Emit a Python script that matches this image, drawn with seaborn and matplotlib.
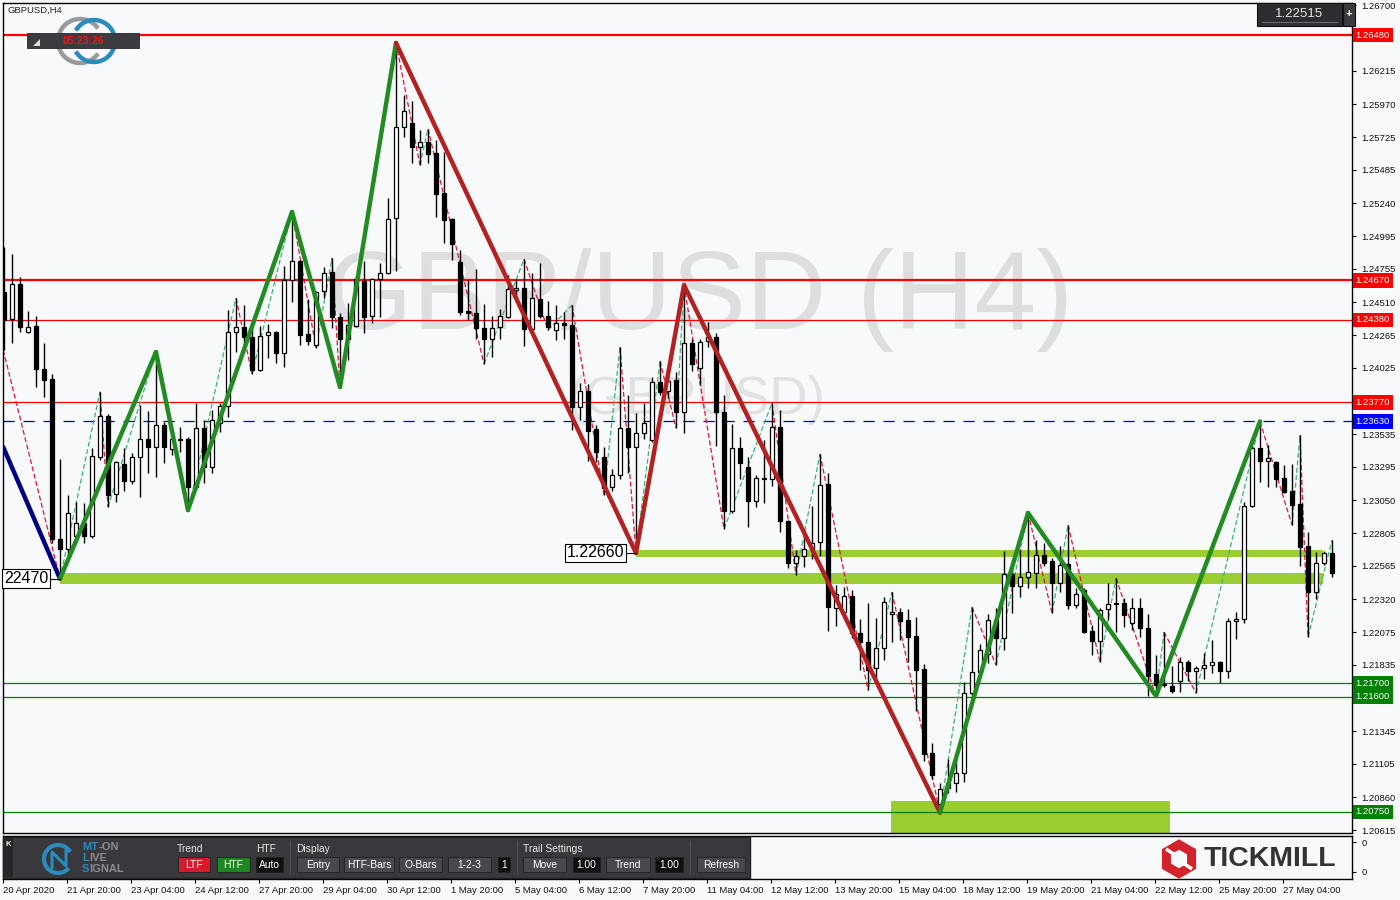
#!/usr/bin/env python3.12
# coding=utf-8

import matplotlib
matplotlib.use("Agg")
from matplotlib import pyplot as plt
from matplotlib import patches, font_manager
from matplotlib.transforms import blended_transform_factory
import pandas as pd
import seaborn as sns
import numpy as np

# GBPUSD H4 candles, 20 Apr - 27 May 2020
opens = [
    1.24585, 1.24385, 1.24643, 1.24293, 1.24334, 1.24016, 1.23943, 1.22763, 1.22689, 1.22782,
    1.22881, 1.22782, 1.23367, 1.23671, 1.23095, 1.23316, 1.23191, 1.23368, 1.23500, 1.23441,
    1.23604, 1.23427, 1.23500, 1.23500, 1.23146, 1.23582, 1.23294, 1.23618, 1.23744, 1.24290,
    1.24326, 1.24253, 1.24009, 1.24267, 1.24290, 1.24135, 1.24673, 1.24813, 1.24275, 1.24194,
    1.24592, 1.24732, 1.24400, 1.24238, 1.24334, 1.24666, 1.24408, 1.24680, 1.24725, 1.25130,
    1.25801, 1.25831, 1.25654, 1.25691, 1.25610, 1.25315, 1.25123, 1.24806, 1.24444, 1.24430,
    1.24319, 1.24238, 1.24326, 1.24400, 1.24599, 1.24614, 1.24312, 1.24533, 1.24408, 1.24304,
    1.24356, 1.24341, 1.23736, 1.23854, 1.23574, 1.23368, 1.23146, 1.23235, 1.23582, 1.23441,
    1.23545, 1.23493, 1.23921, 1.23854, 1.23936, 1.23700, 1.24208, 1.24024, 1.24223, 1.24253,
    1.23700, 1.22969, 1.23434, 1.23294, 1.23043, 1.23205, 1.23205, 1.23589, 1.22896, 1.22586,
    1.22638, 1.22689, 1.22741, 1.23169, 1.22254, 1.22225, 1.22343, 1.22070, 1.22003, 1.21812,
    1.21959, 1.22210, 1.22225, 1.22166, 1.22048, 1.21804, 1.21185, 1.20809, 1.20927, 1.20963,
    1.21037, 1.21627, 1.21782, 1.21915, 1.22166, 1.22033, 1.22505, 1.22416, 1.22483, 1.22512,
    1.22645, 1.22601, 1.22438, 1.22579, 1.22276, 1.22387, 1.22084, 1.22011, 1.22247, 1.22284,
    1.22291, 1.22143, 1.22254, 1.22107, 1.21767, 1.21686, 1.21679, 1.21716, 1.21856, 1.21789,
    1.21812, 1.21834, 1.21856, 1.21789, 1.22158, 1.22173, 1.23006, 1.23434, 1.23338, 1.23331,
    1.23213, 1.23117, 1.23021, 1.22711, 1.22372, 1.22586, 1.22660,
]
highs = [
    1.24916, 1.24865, 1.24695, 1.24445, 1.24407, 1.24208, 1.23980, 1.23353, 1.23087, 1.23036,
    1.23028, 1.23434, 1.23849, 1.23685, 1.23335, 1.23434, 1.23397, 1.23751, 1.23707, 1.24149,
    1.23626, 1.23574, 1.23589, 1.23515, 1.23766, 1.23641, 1.23714, 1.23766, 1.24452, 1.24540,
    1.24489, 1.24319, 1.24334, 1.24349, 1.24300, 1.24776, 1.25175, 1.24820, 1.24533, 1.24592,
    1.24769, 1.24835, 1.24430, 1.24503, 1.24703, 1.24813, 1.24690, 1.24798, 1.25278, 1.26421,
    1.26037, 1.25993, 1.25779, 1.25787, 1.25706, 1.25617, 1.25130, 1.24894, 1.24673, 1.24754,
    1.24496, 1.24408, 1.24459, 1.24710, 1.24680, 1.24828, 1.24725, 1.24798, 1.24518, 1.24489,
    1.24437, 1.24489, 1.23913, 1.23906, 1.23604, 1.23441, 1.23279, 1.24179, 1.23825, 1.23692,
    1.23766, 1.23958, 1.24076, 1.23987, 1.23995, 1.24636, 1.24238, 1.24238, 1.24363, 1.24282,
    1.23825, 1.23611, 1.23515, 1.23368, 1.23235, 1.23493, 1.23766, 1.23714, 1.22903, 1.22682,
    1.22770, 1.23006, 1.23390, 1.23250, 1.22424, 1.22409, 1.22387, 1.22173, 1.22291, 1.22180,
    1.22335, 1.22372, 1.22254, 1.22247, 1.22188, 1.21841, 1.21258, 1.20963, 1.21140, 1.21140,
    1.21708, 1.22261, 1.21989, 1.22210, 1.22254, 1.22674, 1.22556, 1.22689, 1.22955, 1.22756,
    1.22733, 1.22623, 1.22711, 1.22866, 1.22402, 1.22402, 1.22129, 1.22254, 1.22438, 1.22475,
    1.22328, 1.22328, 1.22328, 1.22210, 1.21907, 1.22077, 1.21826, 1.21893, 1.21871, 1.21826,
    1.21922, 1.22018, 1.21863, 1.22180, 1.22225, 1.23036, 1.23478, 1.23630, 1.23456, 1.23338,
    1.23309, 1.23316, 1.23530, 1.22815, 1.22667, 1.22674, 1.22756,
]
lows = [
    1.24157, 1.24208, 1.24293, 1.24285, 1.23884, 1.23810, 1.22734, 1.22470, 1.22608, 1.22734,
    1.22734, 1.22770, 1.23346, 1.22999, 1.23036, 1.23117, 1.23169, 1.23073, 1.23250, 1.23220,
    1.23323, 1.23382, 1.23405, 1.22969, 1.23124, 1.23176, 1.23250, 1.23552, 1.23663, 1.24142,
    1.24142, 1.23980, 1.24002, 1.24098, 1.24061, 1.24031, 1.24511, 1.24194, 1.24194, 1.24172,
    1.24540, 1.24319, 1.23877, 1.24083, 1.24326, 1.24282, 1.24356, 1.24400, 1.24718, 1.24739,
    1.25728, 1.25536, 1.25521, 1.25536, 1.25138, 1.24946, 1.24821, 1.24415, 1.24378, 1.24238,
    1.24054, 1.24105, 1.24238, 1.24393, 1.24548, 1.24186, 1.24297, 1.24393, 1.24304, 1.24231,
    1.24238, 1.23567, 1.23641, 1.23338, 1.23331, 1.23087, 1.23117, 1.23205, 1.23250, 1.22660,
    1.23500, 1.23478, 1.23825, 1.23803, 1.23582, 1.23545, 1.24002, 1.23899, 1.24179, 1.23449,
    1.22837, 1.22955, 1.23205, 1.22851, 1.22999, 1.23028, 1.23154, 1.22815, 1.22549, 1.22497,
    1.22556, 1.22615, 1.22638, 1.22084, 1.22121, 1.22180, 1.22033, 1.21797, 1.21649, 1.21723,
    1.21871, 1.22003, 1.22018, 1.21856, 1.21494, 1.21126, 1.20993, 1.20745, 1.20890, 1.20897,
    1.20971, 1.21598, 1.21775, 1.21848, 1.21834, 1.21944, 1.22217, 1.22335, 1.22402, 1.22402,
    1.22564, 1.22217, 1.22372, 1.22247, 1.22254, 1.22070, 1.21907, 1.21856, 1.22166, 1.22077,
    1.22114, 1.22092, 1.22040, 1.21605, 1.21605, 1.21671, 1.21627, 1.21635, 1.21716, 1.21627,
    1.21730, 1.21775, 1.21701, 1.21738, 1.22025, 1.22143, 1.22999, 1.23183, 1.23146, 1.23146,
    1.23102, 1.22866, 1.22564, 1.22040, 1.22320, 1.22571, 1.22483,
]
closes = [
    1.24378, 1.24643, 1.24326, 1.24326, 1.24016, 1.23936, 1.22763, 1.22689, 1.22957, 1.22881,
    1.22782, 1.23375, 1.23671, 1.23087, 1.23331, 1.23191, 1.23368, 1.23500, 1.23441, 1.23604,
    1.23441, 1.23500, 1.23493, 1.23146, 1.23582, 1.23294, 1.23641, 1.23744, 1.24290, 1.24326,
    1.24253, 1.24009, 1.24260, 1.24290, 1.24135, 1.24673, 1.24813, 1.24267, 1.24223, 1.24585,
    1.24725, 1.24400, 1.24238, 1.24341, 1.24680, 1.24400, 1.24680, 1.24725, 1.25123, 1.25801,
    1.25919, 1.25654, 1.25691, 1.25602, 1.25307, 1.25116, 1.24939, 1.24437, 1.24430, 1.24319,
    1.24238, 1.24319, 1.24408, 1.24607, 1.24614, 1.24312, 1.24540, 1.24408, 1.24326, 1.24356,
    1.24341, 1.23736, 1.23854, 1.23559, 1.23405, 1.23139, 1.23235, 1.23582, 1.23441, 1.23545,
    1.23618, 1.23921, 1.23847, 1.23928, 1.23700, 1.24208, 1.24054, 1.24216, 1.24253, 1.23700,
    1.22969, 1.23434, 1.23323, 1.23043, 1.23213, 1.23213, 1.23589, 1.22896, 1.22586, 1.22638,
    1.22689, 1.22734, 1.23161, 1.22261, 1.22357, 1.22343, 1.22070, 1.22003, 1.21797, 1.21959,
    1.22298, 1.22225, 1.22158, 1.22040, 1.21797, 1.21177, 1.21022, 1.20919, 1.20963, 1.21037,
    1.21627, 1.21782, 1.21944, 1.22166, 1.22033, 1.22505, 1.22416, 1.22483, 1.22520, 1.22645,
    1.22586, 1.22438, 1.22571, 1.22276, 1.22357, 1.22077, 1.22011, 1.22239, 1.22284, 1.22291,
    1.22202, 1.22254, 1.22107, 1.21753, 1.21686, 1.21694, 1.21642, 1.21856, 1.21789, 1.21812,
    1.21834, 1.21856, 1.21789, 1.22158, 1.22173, 1.23006, 1.23434, 1.23338, 1.23360, 1.23205,
    1.23110, 1.23014, 1.22704, 1.22372, 1.22586, 1.22660, 1.22515,
]

# date labels under the chart, one every 8 bars
date_labels = [
    "20 Apr 2020", "21 Apr 20:00", "23 Apr 04:00", "24 Apr 12:00", "27 Apr 20:00",
    "29 Apr 04:00", "30 Apr 12:00", "1 May 20:00", "5 May 04:00", "6 May 12:00",
    "7 May 20:00", "11 May 04:00", "12 May 12:00", "13 May 20:00", "15 May 04:00",
    "18 May 12:00", "19 May 20:00", "21 May 04:00", "22 May 12:00", "25 May 20:00",
    "27 May 04:00",
]
price_ticks = [1.26700, 1.26215, 1.25970, 1.25725, 1.25485, 1.25240, 1.24995, 1.24755,
               1.24510, 1.24265, 1.24025, 1.23535, 1.23295, 1.23050, 1.22805, 1.22565,
               1.22320, 1.22075, 1.21835, 1.21345, 1.21105, 1.20860, 1.20615]

# horizontal levels
level_prices = [1.26480, 1.24670, 1.24380, 1.23770, 1.23630, 1.21700, 1.21600, 1.20750]
level_kind = ["res_major", "res_major", "res", "res", "pivot", "sup", "sup", "sup"]

# big swing zigzag (bar index, price) and the colour of each leg
swing_bars = [-0.1, 7, 19, 23, 36, 42, 49, 79, 85, 117, 128, 144, 157]
swing_prices = [1.23441, 1.22470, 1.24142, 1.22977, 1.25175, 1.23884, 1.26421,
                1.22660, 1.24636, 1.20745, 1.22955, 1.21605, 1.23630]
swing_trend = ["start", "up", "up", "up", "up", "up", "down", "down", "down",
               "up", "up", "up"]

# minor zigzag (thin dashed)
minor_bars = [-0.1, 7, 12, 13, 19, 23, 29, 31, 36, 39, 41, 42, 49, 52, 53, 60, 65, 68, 71,
              75, 77, 79, 82, 84, 85, 90, 96, 99, 102, 108, 111, 117, 121, 124, 128, 131,
              133, 137, 139, 144, 145, 149, 157, 161, 162, 163, 166]
minor_prices = [1.24157, 1.22470, 1.23849, 1.22999, 1.24149, 1.22969, 1.24540, 1.23980,
                1.25175, 1.24172, 1.24835, 1.23877, 1.26421, 1.25521, 1.25787, 1.24054,
                1.24828, 1.24304, 1.24489, 1.23087, 1.24179, 1.22660, 1.24076, 1.23582,
                1.24636, 1.22837, 1.23766, 1.22497, 1.23390, 1.21649, 1.22372, 1.20745,
                1.22261, 1.21834, 1.22955, 1.22217, 1.22866, 1.21856, 1.22475, 1.21605,
                1.22077, 1.21627, 1.23630, 1.22866, 1.23530, 1.22040, 1.22756]

# green zones (bar start, bar end, low, high)
zone_start = [7, 79, 110.9]
zone_end = [164.9, 164.9, 145.75]
zone_low = [1.22430, 1.22630, 1.20500]
zone_high = [1.22512, 1.22682, 1.20831]

# boxed swing prices (the first one is cut by the window edge, as in the terminal)
box_bars = [7, 79]
box_prices = [1.22470, 1.22660]
box_texts = ["22470", "1.22660"]

BG = '#f8f9fb'
W, H = 1400, 900

sns.set_theme(style="white")
plt.rcParams['font.family'] = ['Liberation Sans', 'DejaVu Sans']
font_names = {f.name for f in font_manager.fontManager.ttflist}
wm_font = 'Liberation Sans Narrow' if 'Liberation Sans Narrow' in font_names else 'Liberation Sans'
wm_size = (92, 44) if wm_font == 'Liberation Sans Narrow' else (80, 38)

fig = plt.figure(figsize=(14, 9), dpi=100, facecolor=BG)
ax = fig.add_axes([3 / W, 67 / H, 1349 / W, 830 / H])
axp = fig.add_axes([3 / W, 21 / H, 1349 / W, 43 / H])

df = pd.DataFrame({'open': opens, 'high': highs, 'low': lows, 'close': closes})
df['bar'] = np.arange(len(df))
df['up'] = df['close'] >= df['open']
df['body_lo'] = df[['open', 'close']].min(axis=1)
df['body_h'] = (df['close'] - df['open']).abs().clip(lower=0.00003)

x_left, x_right = -0.125, 168.5
y_low, y_high = 1.20595, 1.26716

ax.set_facecolor(BG)
ax.set_xlim(x_left, x_right)
ax.set_ylim(y_low, y_high)

# watermark
ax.text(0.5167, 0.642, "GBP/USD (H4)", transform=ax.transAxes, ha='center', va='center',
        fontsize=wm_size[0], color='#dedede', family=wm_font, zorder=0)
ax.text(0.5145, 0.522, "(GBPUSD)", transform=ax.transAxes, ha='center', va='center',
        fontsize=wm_size[1], color='#e2e2e2', family=wm_font, zorder=0)

# green zones
for xs, xe, lo, hi in zip(zone_start, zone_end, zone_low, zone_high):
    ax.add_patch(patches.Rectangle((xs, lo), xe - xs, hi - lo, fc='#9acd32', ec='none', zorder=1))

# levels
level_style = {
    'res_major': dict(color='#ff0000', lw=1.6, ls='-', box='#ff0000'),
    'res': dict(color='#ff0000', lw=0.9, ls='-', box='#ff0000'),
    'pivot': dict(color='#0000cc', lw=0.9, ls=(0, (9, 7)), box='#0000ff'),
    'sup': dict(color='#008000', lw=0.9, ls='-', box='#008000'),
}
trans = blended_transform_factory(ax.transAxes, ax.transData)
for price, kind in zip(level_prices, level_kind):
    st = level_style[kind]
    ax.axhline(price, color=st['color'], lw=st['lw'], ls=st['ls'], zorder=2)
    ax.text(1.0028, price, f"{price:.5f}", transform=trans, ha='left', va='center',
            fontsize=6.8, color='white', clip_on=False, zorder=6,
            bbox=dict(boxstyle='square,pad=0.28', fc=st['box'], ec='none'))

# minor zigzag
for i in range(len(minor_bars) - 1):
    going_up = minor_prices[i + 1] > minor_prices[i]
    ax.plot(minor_bars[i:i + 2], minor_prices[i:i + 2],
            color='#3cb371' if going_up else '#dc143c', lw=0.9, ls=(0, (4, 2)), zorder=2.5)

# candles
ax.vlines(df['bar'], df['low'], df['high'], color='black', lw=1, zorder=3)
bull = df[df['up']]
bear = df[~df['up']]
ax.bar(bull['bar'], bull['body_h'], bottom=bull['body_lo'], width=0.62, color='white',
       edgecolor='black', linewidth=0.9, zorder=4)
ax.bar(bear['bar'], bear['body_h'], bottom=bear['body_lo'], width=0.62, color='black',
       edgecolor='black', linewidth=0.9, zorder=4)

# big swing zigzag
trend_colors = {'start': '#000080', 'up': '#228b22', 'down': '#b22222'}
for i, trend in enumerate(swing_trend):
    sns.lineplot(x=swing_bars[i:i + 2], y=swing_prices[i:i + 2], ax=ax, color=trend_colors[trend],
                 lw=3.2, sort=False, estimator=None, zorder=5)

# boxed swing prices
for b, p, txt in zip(box_bars, box_prices, box_texts):
    ax.plot([b - 1.25, b], [p, p], color='black', lw=0.8, zorder=5)
    ax.text(b - 1.45, p, txt, ha='right', va='center', fontsize=11.5, color='black',
            zorder=6, bbox=dict(boxstyle='square,pad=0.12', fc='white', ec='black', lw=0.8))

ax.set_xticks([])
ax.set_yticks(price_ticks)
ax.set_yticklabels([f"{v:.5f}" for v in price_ticks])
ax.yaxis.tick_right()
ax.tick_params(axis='y', right=True, left=False, length=3, width=0.8, labelsize=6.8,
               pad=4, colors='black', labelcolor='#111111')
for sp in ax.spines.values():
    sp.set_color('black')
    sp.set_linewidth(1)
ax.set_xlabel('')
ax.set_ylabel('')

# lower indicator window with the date axis
axp.set_facecolor(BG)
axp.set_xlim(x_left, x_right)
axp.set_ylim(0, 1)
axp.set_xticks([8 * k - 0.1 for k in range(len(date_labels))])
axp.set_xticklabels(date_labels, ha='left')
axp.set_yticks([0.17, 0.85])
axp.set_yticklabels(['0', '0'])
axp.yaxis.tick_right()
axp.tick_params(axis='x', bottom=True, length=3, width=0.8, labelsize=6.8, pad=2,
                colors='black', labelcolor='#111111')
axp.tick_params(axis='y', right=True, left=False, length=3, width=0.8, labelsize=6.8,
                pad=4, colors='black', labelcolor='#111111')
for sp in axp.spines.values():
    sp.set_color('black')
    sp.set_linewidth(1)

# overlay in pixel coordinates for the terminal decorations
ov = fig.add_axes([0, 0, 1, 1], zorder=10)
ov.set_xlim(0, W)
ov.set_ylim(H, 0)
ov.axis('off')
ov.patch.set_alpha(0)

ov.text(7, 10, "GBPUSD,H4", fontsize=6.8, color='#222222', va='center', ha='left')

# logo with countdown
ov.add_patch(patches.Arc((80, 41), 44, 44, theta1=35, theta2=325, color='#9a9a9a', lw=3.2))
ov.add_patch(patches.Arc((94, 41), 42, 42, theta1=-150, theta2=150, color='#2a8bbd', lw=3.2))
ov.add_patch(patches.Rectangle((27, 33), 112, 15, fc='#3b3b40', ec='#2a2a2e', lw=0.6))
ov.add_patch(patches.Polygon([[33, 46], [40, 46], [40, 39]], closed=True, fc='#dddddd', ec='none'))
ov.text(83, 40.5, "05:23:26", color='#ff1010', fontsize=7.5, fontweight='bold',
        ha='center', va='center')

# current price box
ov.add_patch(patches.Rectangle((1257, 3), 85, 23, fc='#2c2c31', ec='#111111', lw=0.8))
ov.plot([1262, 1337], [22, 22], color='#6a6a6f', lw=0.8)
ov.text(1299, 14, "1.22515", color='#e6e6e6', fontsize=9.5, ha='center', va='center')
ov.add_patch(patches.Rectangle((1343, 3), 12, 23, fc='#3a3a3f', ec='#111111', lw=0.8))
ov.text(1349, 14, "+", color='white', fontsize=8, ha='center', va='center', fontweight='bold')

# MT-ON control panel
ov.add_patch(patches.Rectangle((3, 837), 747, 41, fc='#38383d', ec='#222226', lw=1))
ov.add_patch(patches.Rectangle((4, 838), 9, 39, fc='#26262a', ec='none'))
ov.text(8, 844, "K", color='white', fontsize=5.5, ha='center', va='center', fontweight='bold')
ov.add_patch(patches.Arc((58, 859), 28, 28, theta1=40, theta2=330, color='#2a8bbd', lw=3))
ov.plot([52, 52, 66, 66], [868, 852, 866, 850], color='#2a8bbd', lw=2.2)
logo_words = [("MT", "-ON", 847, 16.5), ("L", "IVE", 858, 7.0), ("S", "IGNAL", 869, 7.6)]
for head, tail, yy, dx in logo_words:
    ov.text(82, yy, head, color='#2a8bbd', fontsize=8, fontweight='bold', ha='left', va='center')
    ov.text(82 + dx, yy, tail, color='#8c8c90', fontsize=8, fontweight='bold',
            ha='left', va='center')

for txt, xx in [("Trend", 177), ("HTF", 256), ("Display", 296), ("Trail Settings", 523)]:
    ov.text(xx, 849, txt, color='#e8e8e8', fontsize=7.4, ha='left', va='center')
for xx in [290, 517, 690]:
    ov.plot([xx, xx], [841, 874], color='#505056', lw=0.8)

buttons = [
    (178, 210, "LTF", '#d61a2c'), (217, 250, "HTF", '#1e861e'), (256, 283, "Auto", '#101010'),
    (297, 339, "Entry", '#48484e'), (344, 394, "HTF-Bars", '#48484e'),
    (399, 442, "O-Bars", '#48484e'), (448, 491, "1-2-3", '#48484e'), (498, 510, "1", '#101010'),
    (523, 566, "Move", '#48484e'), (573, 600, "1.00", '#101010'),
    (606, 650, "Trend", '#48484e'), (655, 683, "1.00", '#101010'),
    (697, 745, "Refresh", '#48484e'),
]
for x0, x1, label, fc in buttons:
    ov.add_patch(patches.Rectangle((x0, 857), x1 - x0, 15, fc=fc, ec='#202024', lw=0.6))
    ov.text((x0 + x1) / 2, 864.5, label, color='white', fontsize=7.4, ha='center', va='center')

# Tickmill logo
ov.add_patch(patches.RegularPolygon((1179, 859), numVertices=6, radius=14.5, fill=False,
                                    ec='#d2232a', lw=6.5))
ov.plot([1166, 1175], [849, 855], color='white', lw=2.5, solid_capstyle='butt')
ov.plot([1183, 1192], [863, 869], color='white', lw=2.5, solid_capstyle='butt')
ov.text(1204, 859, "TICKMILL", color='#333333', fontsize=20.5, fontweight='bold',
        ha='left', va='center')

fig.savefig('out.png', dpi=100, facecolor=BG)
